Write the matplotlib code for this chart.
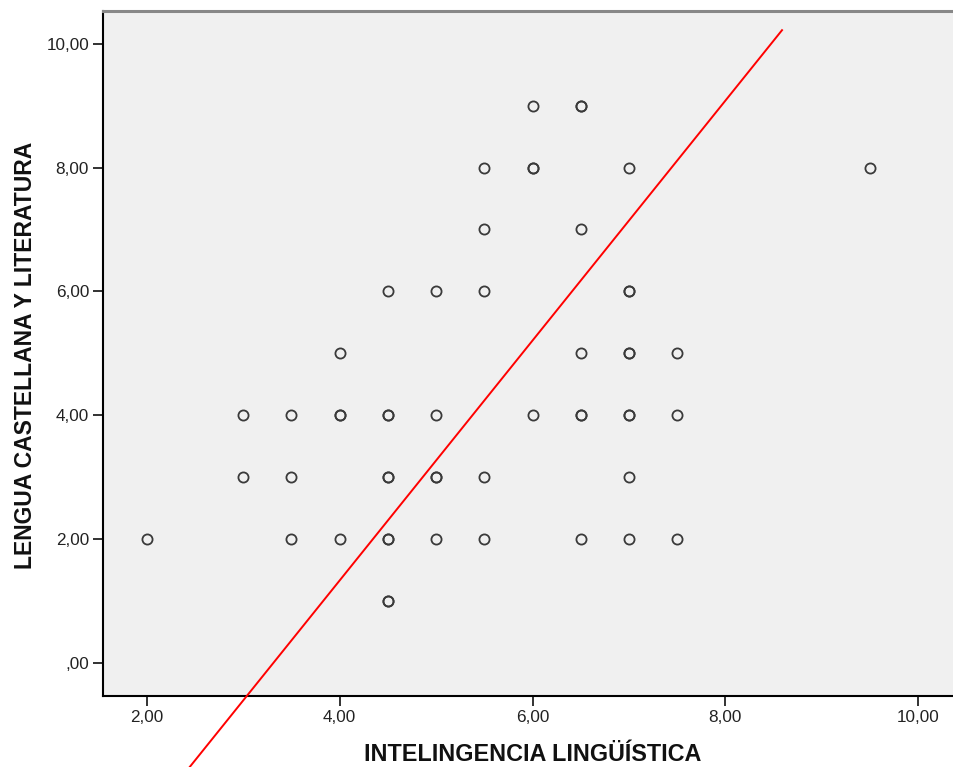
import matplotlib
matplotlib.use("Agg")
import matplotlib.pyplot as plt

plt.rcParams["font.family"] = ["Liberation Sans", "DejaVu Sans"]

# Intelingencia lingüística vs lengua castellana (duplicates = overlapping cases)
ling = [2, 3, 3, 3.5, 3.5, 3.5, 4, 4, 4, 4,
        4.5, 4.5, 4.5, 4.5, 4.5, 4.5, 4.5, 4.5, 4.5,
        5, 5, 5, 5, 5, 5.5, 5.5, 5.5, 5.5, 5.5,
        6, 6, 6, 6, 6.5, 6.5, 6.5, 6.5, 6.5, 6.5, 6.5,
        7, 7, 7, 7, 7, 7, 7, 7, 7, 7.5, 7.5, 7.5, 9.5]
lengua = [2, 4, 3, 4, 3, 2, 5, 4, 4, 2,
          6, 4, 4, 3, 3, 2, 2, 1, 1,
          6, 4, 3, 3, 2, 8, 7, 6, 3, 2,
          9, 8, 8, 4, 9, 9, 7, 5, 4, 4, 2,
          8, 6, 6, 5, 5, 4, 4, 3, 2, 5, 4, 2, 8]

# fit line as drawn in the reference
fit_x = [2.446, 8.587]
fit_intercept = -6.43
fit_slope = 1.939

xticks = [2, 4, 6, 8, 10]
xticklabels = ["2,00", "4,00", "6,00", "8,00", "10,00"]
yticks = [0, 2, 4, 6, 8, 10]
yticklabels = [",00", "2,00", "4,00", "6,00", "8,00", "10,00"]


def main() -> None:
    fig = plt.figure(figsize=(9.54, 7.67), dpi=100)
    ax = fig.add_axes([103 / 954, 71 / 767, 851 / 954, 685 / 767])
    ax.set_facecolor("#f0f0f0")

    ax.plot(ling, lengua, linestyle="none", marker="o", markersize=7.3,
            markerfacecolor="none", markeredgecolor="#3a3a3a",
            markeredgewidth=1.3, zorder=3)

    fit_y = [fit_intercept + fit_slope * x for x in fit_x]
    ax.plot(fit_x, fit_y, color="red", linewidth=1.4, clip_on=False, zorder=4)

    ax.set_xlim(1.547, 10.37)
    ax.set_ylim(-0.54, 10.53)
    ax.set_xticks(xticks)
    ax.set_xticklabels(xticklabels)
    ax.set_yticks(yticks)
    ax.set_yticklabels(yticklabels)
    ax.tick_params(direction="out", length=7, width=1.3, labelsize=12.3,
                   colors="#222222", pad=3)

    for side in ["left", "bottom"]:
        ax.spines[side].set_color("black")
        ax.spines[side].set_linewidth(1.5)
    ax.spines["top"].set_color("#888888")
    ax.spines["top"].set_linewidth(2.2)
    ax.spines["right"].set_visible(False)

    ax.set_xlabel("INTELINGENCIA LINGÜÍSTICA", fontsize=16.8,
                  fontweight="bold", color="#111111")
    ax.xaxis.set_label_coords(0.505, -0.069)
    ax.set_ylabel("LENGUA CASTELLANA Y LITERATURA", fontsize=16.5,
                  fontweight="bold", color="#111111")
    ax.yaxis.set_label_coords(-0.078, 0.497)

    fig.savefig("out.png", dpi=100, facecolor="white")


main()
